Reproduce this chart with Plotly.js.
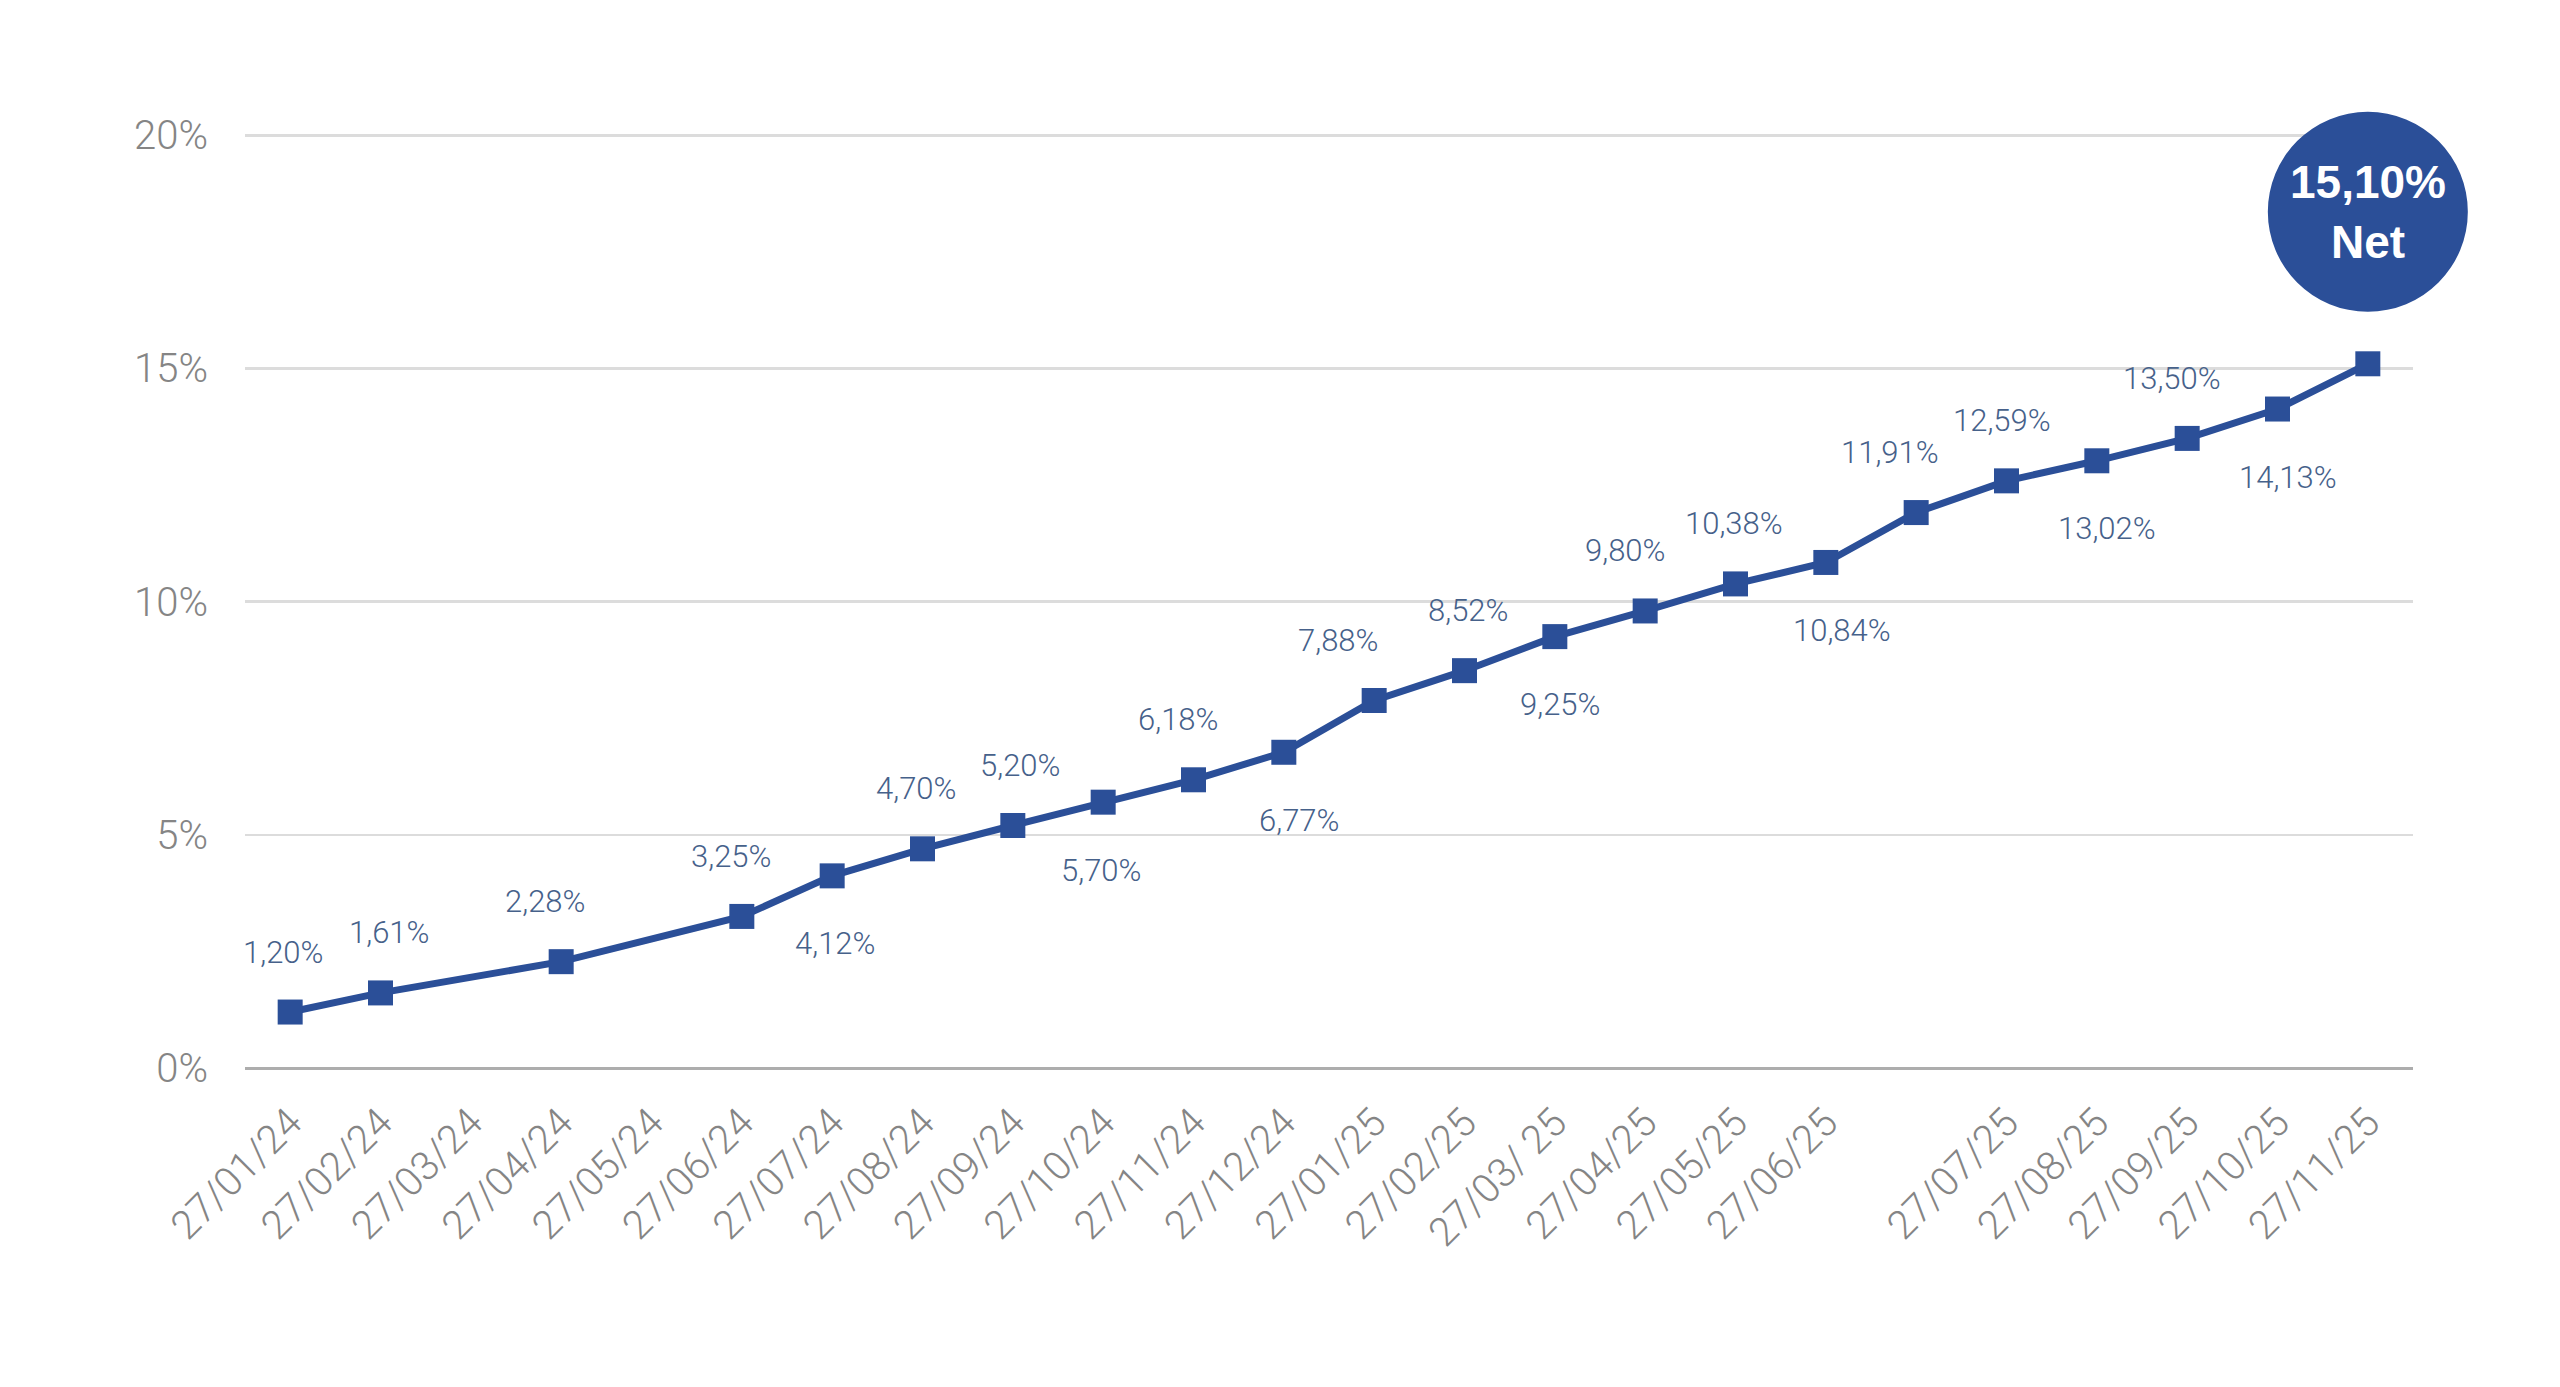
<!DOCTYPE html>
<html>
<head>
<meta charset="utf-8">
<script src="https://cdn.plot.ly/plotly-3.0.1.min.js"></script>
<style>html,body{margin:0;padding:0;background:#fff;}#chart{width:2560px;height:1387px;}</style>
</head>
<body>
<div id="chart"></div>
<script>
// ---- data ----
const categories = ["27/01/24","27/02/24","27/03/24","27/04/24","27/05/24","27/06/24","27/07/24","27/08/24","27/09/24","27/10/24","27/11/24","27/12/24","27/01/25","27/02/25","27/03/ 25","27/04/25","27/05/25","27/06/25","","27/07/25","27/08/25","27/09/25","27/10/25","27/11/25"];
const values = [1.20,1.61,null,2.28,null,3.25,4.12,4.70,5.20,5.70,6.18,6.77,7.88,8.52,9.25,9.80,10.38,10.84,11.91,12.59,13.02,13.50,14.13,15.10];
const yTicks = [0,5,10,15,20];
const highlightLabel = "Net";

// label placement (style): 1 = above, -1 = below, 0 = none; small horizontal nudges in px
const labelSide = [1,1,0,1,0,1,-1,1,1,-1,1,-1,1,1,-1,1,1,-1,1,1,-1,1,-1,0];
const labelDx   = [-7,8,0,-16,0,-11,3,-7,7,-2,-16,15,-36,3,5,-20,-2,16,-26,-5,10,-15,10,0];

const xIdx = categories.map((_, i) => i);
const fmt = v => v.toFixed(2).replace('.', ',') + '%';
const xRange = [-0.5, categories.length - 0.5];
const yRange = [0, 22];

const blue = '#2b4f98';
const labelColor = '#46618a';
const axisFont = {family: 'Roboto, "Liberation Sans", sans-serif', size: 40, color: '#858585', weight: 300};

const annotations = [];
values.forEach((v, i) => {
  if (v === null || labelSide[i] === 0) return;
  annotations.push({
    x: xIdx[i], y: v, xref: 'x', yref: 'y',
    text: fmt(v), showarrow: false,
    xshift: labelDx[i],
    yshift: labelSide[i] > 0 ? 60 : -68,
    font: {family: 'Roboto, "Liberation Sans", sans-serif', size: 31, color: labelColor, weight: 300}
  });
});
const lastI = values.length - 1;
// paper-relative anchor of the last point (so the badge is not clipped by the plot area)
const lastPx = (xIdx[lastI] - xRange[0]) / (xRange[1] - xRange[0]);
const lastPy = (values[lastI] - yRange[0]) / (yRange[1] - yRange[0]);
annotations.push({
  x: xIdx[lastI], y: values[lastI], xref: 'x', yref: 'y',
  text: '<b>' + fmt(values[lastI]) + '</b><br><b>' + highlightLabel + '</b>',
  showarrow: false, yshift: 152,
  font: {family: '"Liberation Sans", Arial, sans-serif', size: 46, color: '#ffffff'}
});

const trace = {
  x: xIdx, y: values, type: 'scatter', mode: 'lines+markers',
  connectgaps: true,
  line: {color: blue, width: 7},
  marker: {symbol: 'square', size: 25, color: blue},
  hoverinfo: 'skip'
};

const layout = {
  width: 2560, height: 1387,
  margin: {l: 245, r: 147, t: 42, b: 319},
  paper_bgcolor: '#ffffff', plot_bgcolor: '#ffffff',
  showlegend: false,
  xaxis: {
    range: xRange,
    tickmode: 'array', tickvals: xIdx, ticktext: categories,
    tickangle: -45, tickfont: axisFont,
    showgrid: false, zeroline: false, showline: false,
    ticks: 'outside', ticklen: 14, tickcolor: 'rgba(0,0,0,0)'
  },
  yaxis: {
    range: yRange,
    tickmode: 'array', tickvals: yTicks, ticktext: yTicks.map(t => t + '%'),
    tickfont: axisFont,
    showgrid: true, gridcolor: '#dcdcdc', gridwidth: 2.5,
    zeroline: true, zerolinecolor: '#adadad', zerolinewidth: 3,
    ticks: 'outside', ticklen: 28, tickcolor: 'rgba(0,0,0,0)'
  },
  shapes: [{
    type: 'circle', xref: 'paper', yref: 'paper',
    xsizemode: 'pixel', ysizemode: 'pixel',
    xanchor: lastPx, yanchor: lastPy,
    x0: -100, x1: 100, y0: 52, y1: 252,
    fillcolor: blue, line: {width: 0}, layer: 'above'
  }],
  annotations: annotations
};

Plotly.newPlot('chart', [trace], layout, {staticPlot: true, displayModeBar: false});
</script>
</body>
</html>
